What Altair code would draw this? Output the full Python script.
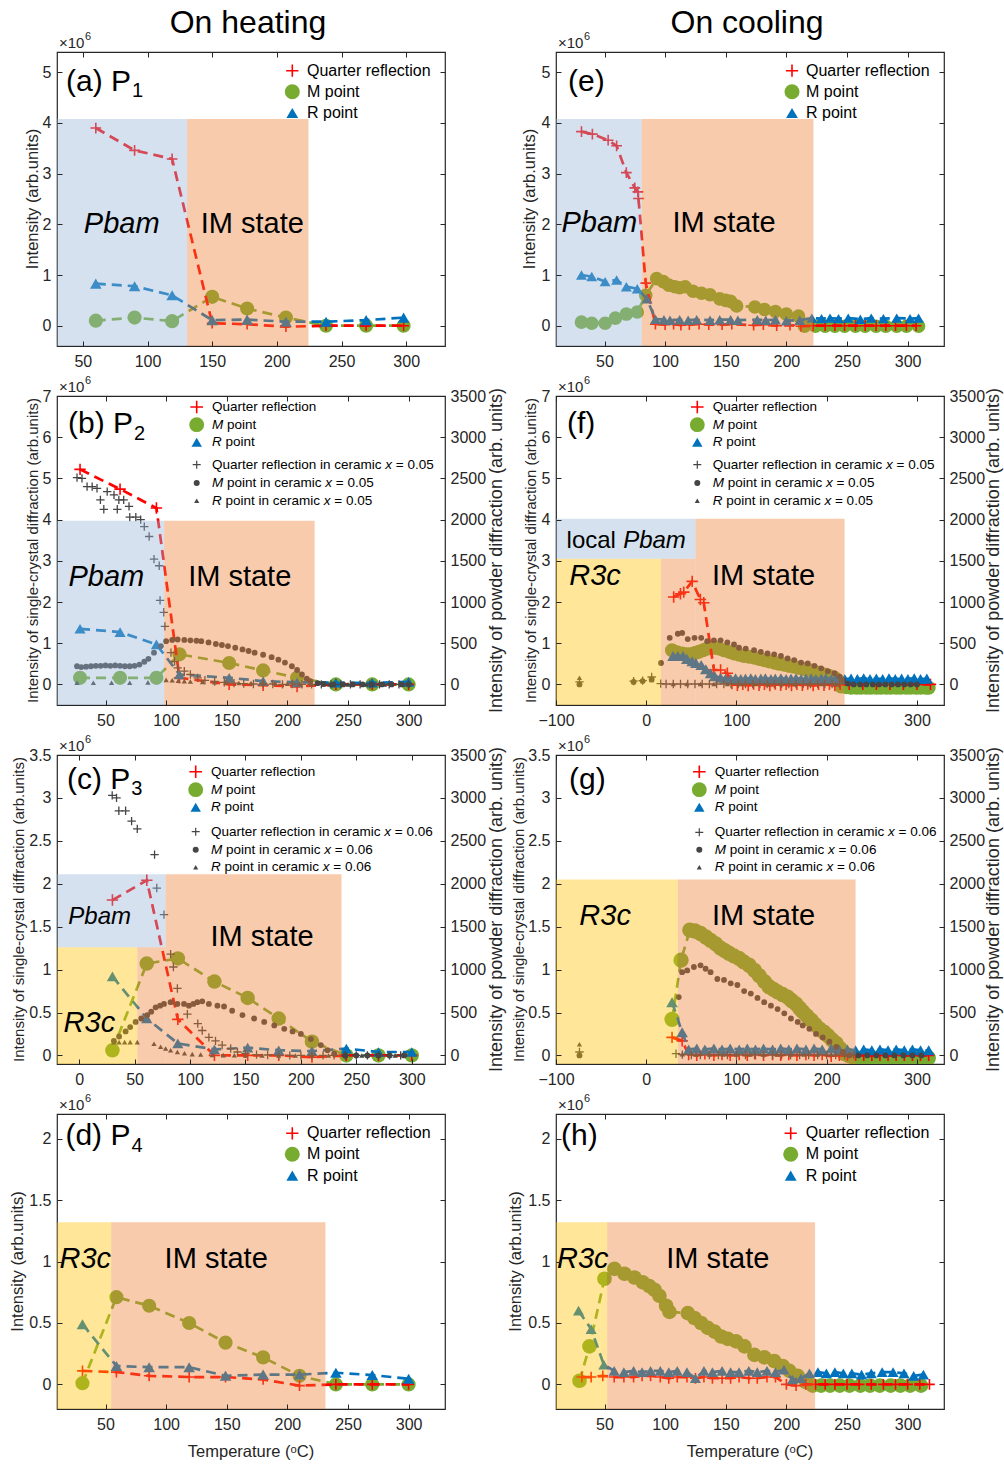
import altair as alt
import pandas as pd

# ======================= DATA (values in units of 1e6 for single crystal, powder units for ceramic) ==========
# (a) P1 on heating
a_T = [60, 90, 119, 150, 177, 207, 238, 269, 298]
a_Q = [3.90, 3.46, 3.29, 0.05, 0.03, -0.02, 0.0, 0.0, 0.0]
a_M = [0.10, 0.16, 0.09, 0.57, 0.34, 0.16, 0.0, 0.0, 0.0]
a_R = [0.83, 0.78, 0.60, 0.11, 0.12, 0.08, 0.08, 0.11, 0.16]

# (e) P1 on cooling
e_QT = [31, 40, 53, 60, 68, 75, 77.5, 78, 84, 92, 100, 107, 113, 120, 128, 136, 147, 155, 173, 181,
        192, 203, 212, 222, 232, 240, 248, 257, 265, 274, 282, 290, 299, 307]
e_Q = [3.83, 3.78, 3.66, 3.55, 3.02, 2.72, 2.64, 2.51, 0.84, 0.03, 0.02, 0.03, 0.01, 0.02, 0.03, 0.02, 0.02, 0.03, 0.01, 0.02,
       0.0, 0.01, -0.01, 0.0, 0.0, 0.0, 0.0, 0.0, 0.0, 0.0, 0.0, 0.0, 0.0, 0.0]
e_MT = [31, 39.5, 50.5, 59, 68, 77, 84, 93, 98.5, 103, 108, 112, 116.5, 123, 130, 137, 145, 150, 154, 159,
        174, 182, 191, 200, 210, 215, 224, 232, 240, 248, 257, 265, 274, 282, 291, 299, 309]
e_M = [0.07, 0.05, 0.05, 0.15, 0.23, 0.27, 0.60, 0.93, 0.87, 0.80, 0.77, 0.75, 0.77, 0.68, 0.64, 0.61, 0.53, 0.50, 0.48, 0.39,
       0.37, 0.32, 0.28, 0.23, 0.19, -0.01, -0.01, -0.01, -0.01, -0.01, -0.01, -0.01, -0.01, -0.01, -0.01, -0.01, -0.01]
e_RT = [31, 39.5, 50.5, 60, 68, 77, 85, 92, 99, 104, 112, 119, 126, 137, 145, 154, 160, 176, 183, 191,
        200, 211, 221, 229, 236, 243, 251, 261, 270, 280, 291, 302, 309]
e_R = [1.0, 0.97, 0.87, 0.90, 0.77, 0.73, 0.53, 0.13, 0.12, 0.11, 0.12, 0.11, 0.12, 0.11, 0.12, 0.12, 0.11, 0.12, 0.11, 0.12,
       0.10, 0.11, 0.15, 0.14, 0.15, 0.14, 0.15, 0.13, 0.15, 0.14, 0.15, 0.14, 0.15]

# (b) P2 on heating
b_T = [29, 62, 92, 111, 152, 180, 208, 240, 270, 300]
b_Q = [5.22, 4.74, 4.28, 0.16, 0.0, -0.02, -0.05, 0.0, 0.0, 0.0]
b_M = [0.16, 0.16, 0.16, 0.73, 0.52, 0.34, 0.16, 0.0, 0.0, 0.0]
b_R = [1.35, 1.27, 0.97, 0.24, 0.16, 0.08, 0.05, 0.04, 0.04, 0.06]
# ceramic x = 0.05 (powder units)
bc_QT = [26.5, 30.6, 34.8, 39, 43, 45.8, 48.6, 51.4, 57, 59.7, 61, 65, 69.4, 70, 75, 79, 82, 86, 90, 94.3,
         95, 98, 99, 104, 107, 109.5, 115, 120, 126, 132, 140, 148, 156, 164, 172, 180, 188, 196, 204, 212,
         220, 228, 236, 244, 252, 260, 268, 276, 284, 292, 300]
bc_Q = [2510, 2500, 2400, 2400, 2380, 2240, 2125, 2340, 2300, 2125, 2240, 2240, 2160, 2030, 2030, 2000, 1915, 1795, 1520, 1440,
        1020, 875, 705, 385, 280, 200, 160, 120, 80, 50, 35, 25, 15, 10, 5, 5, 5, 0, 5, 0,
        0, 0, 0, 0, 0, 0, 0, 0, 0, 0, 0]
bc_MT = [26.5, 30, 34, 38, 42, 46, 50, 54, 58, 62, 66, 70, 74, 78, 82, 85.4, 90, 95.7, 100, 105,
         109.5, 115, 120, 125, 129, 135, 141, 146, 151, 157, 163, 168, 173, 180, 187, 192.6, 198, 203.7, 208, 212,
         216, 219, 225, 230, 238, 246, 254, 262, 270, 278, 286, 294, 300]
bc_M = [220, 210, 215, 220, 225, 225, 230, 225, 230, 225, 220, 220, 225, 240, 275, 310, 385, 465, 525, 540,
        545, 540, 535, 530, 525, 510, 490, 478, 465, 445, 425, 405, 385, 360, 330, 300, 265, 220, 175, 120,
        70, 40, 15, 5, 0, 0, 0, 0, 0, 0, 0, 0, 0]
bc_RT = [26.5, 40, 55, 70, 85, 100, 105, 110, 115, 120, 130, 140, 150, 160, 170, 180, 190, 200, 210, 220,
         235, 250, 265, 280, 295]
bc_R = [20, 20, 20, 20, 25, 55, 50, 45, 40, 35, 30, 26, 22, 18, 15, 12, 10, 8, 5, 3, 0, 0, 0, 0, 0]

# (f) P2 on cooling
f_QT = [30.4, 37.9, 41.6, 50.9, 60, 63.8, 75, 82.4, 89.9, 95, 101, 107, 113, 119, 125, 131, 137, 143, 149, 155,
        161, 167, 173, 179, 185, 191, 197, 203, 209, 215, 225, 240, 255, 270, 285, 300, 315]
f_Q = [2.12, 2.20, 2.24, 2.50, 2.06, 1.98, 0.35, 0.35, 0.27, 0.02, -0.02, 0.0, -0.03, 0.01, -0.02, 0.0, -0.03, 0.01, -0.02, 0.0,
       -0.03, 0.0, -0.02, 0.01, -0.03, 0.0, -0.02, 0.0, -0.03, 0.0, 0.0, 0.0, 0.0, 0.0, 0.0, 0.0, 0.0]
f_MT = [28.6, 34, 39.8, 45, 49, 54, 58.3, 63, 67.6, 72, 76.9, 81, 86.2, 92, 97.3, 103, 108.4, 114, 119.5, 125,
        130.7, 136, 141.8, 147, 153, 158, 164, 170, 175.3, 181, 186.4, 192, 197.5, 203, 208.7, 212, 216, 222, 227, 233,
        238, 244, 249, 255, 260, 266, 271, 277, 282, 288, 293, 299, 304, 310, 313]
f_M = [0.83, 0.78, 0.75, 0.73, 0.73, 0.76, 0.79, 0.83, 0.87, 0.88, 0.89, 0.87, 0.83, 0.79, 0.75, 0.72, 0.69, 0.67, 0.65, 0.62,
       0.59, 0.56, 0.53, 0.50, 0.48, 0.45, 0.43, 0.40, 0.37, 0.34, 0.31, 0.28, 0.24, 0.20, 0.16, 0.10, -0.05, -0.07, -0.08, -0.08,
       -0.08, -0.08, -0.08, -0.08, -0.08, -0.08, -0.08, -0.08, -0.08, -0.08, -0.08, -0.08, -0.08, -0.08, -0.08]
f_RT = [29.7, 35, 40.8, 45, 50.9, 55, 60.9, 66, 71.3, 76, 82.4, 88, 93.6, 99, 104.8, 110, 115.9, 121, 127, 132,
        138.2, 143, 149.3, 155, 160.4, 166, 171.6, 177, 182.7, 188, 193.9, 199, 205, 210, 214.3, 220, 227, 234, 241, 248,
        255, 262, 269, 276, 283, 290, 297, 304, 311]
f_R = [0.69, 0.69, 0.69, 0.62, 0.56, 0.52, 0.47, 0.37, 0.27, 0.20, 0.16, 0.14, 0.13, 0.15, 0.13, 0.14, 0.15, 0.13, 0.14, 0.15,
       0.13, 0.14, 0.15, 0.13, 0.14, 0.15, 0.13, 0.14, 0.15, 0.13, 0.14, 0.15, 0.13, 0.14, 0.13, 0.13, 0.14, 0.13, 0.15, 0.13,
       0.14, 0.13, 0.15, 0.13, 0.14, 0.13, 0.15, 0.13, 0.14]
fc_QT = [-74, -14, -4, 6, 16, 22, 30, 38, 46, 54, 62, 70, 78, 86, 94, 102, 110, 118, 126, 134,
         142, 150, 158, 166, 174, 182, 190, 198, 206, 214]
fc_Q = [30, 40, 45, 90, 10, 5, 5, 5, 5, 5, 5, 5, 5, 5, 5, 5, 5, 5, 5, 5, 5, 5, 5, 5, 5, 5, 5, 5, 5, 5]
fc_MT = [-74, -14, -4, 6, 16.4, 26, 35, 39.8, 46, 53.5, 60.9, 67.6, 75, 82.4, 89.9, 97.3, 102.8, 110.3, 119.5, 127,
         134.4, 141.8, 149.3, 156.7, 164, 171.6, 179, 186.4, 193.9, 201.3, 208.7, 214.3, 218, 223.5, 230, 237, 244, 251, 258, 265,
         272, 279, 286, 293, 300]
fc_M = [0, 30, 40, 60, 260, 565, 615, 625, 550, 565, 565, 525, 535, 535, 510, 485, 445, 435, 415, 395,
        375, 365, 345, 315, 295, 265, 255, 225, 195, 160, 135, 95, 50, 10, 0, 0, 0, 0, 0, 0,
        0, 0, 0, 0, 0]
fc_RT = [-74, -14, -4, 6, 30, 45, 60, 75, 90, 105, 120, 135, 150, 165, 180, 195, 210]
fc_R = [80, 55, 60, 55, 5, 5, 5, 5, 5, 5, 5, 5, 5, 5, 5, 5, 5]

# (c) P3 on heating
c_T = [30, 61, 89, 122, 152, 180, 210, 241, 270, 300]
c_Q = [1.81, 2.04, 0.42, 0.0, 0.0, 0.0, -0.02, 0.0, 0.0, 0.0]
c_M = [0.06, 1.07, 1.13, 0.86, 0.67, 0.43, 0.16, 0.0, 0.0, 0.0]
c_R = [0.92, 0.43, 0.14, 0.07, 0.09, 0.06, 0.05, 0.08, 0.04, 0.04]
cc_QT = [29.8, 33.7, 35.8, 41.9, 47.3, 52.4, 68, 70, 76.5, 82.5, 85, 88.6, 97.6, 107, 111, 117, 123, 129, 136.7, 142.8,
         150, 160, 170, 180, 190, 200, 210, 220, 230, 240, 250, 260, 270, 280, 290]
cc_Q = [3030, 3000, 2850, 2850, 2730, 2640, 2340, 1950, 1640, 1180, 1030, 780, 480, 370, 290, 210, 170, 120, 80, 40,
        20, 10, 5, 0, 0, 0, 0, 0, 0, 0, 0, 0, 0, 0, 0]
cc_MT = [31.3, 36, 41.9, 46, 50.9, 56, 61.4, 65, 69, 73, 76.5, 82.5, 88.6, 94.6, 99, 103, 106.6, 111, 117, 124.7,
         130.7, 138, 147.3, 157.8, 166.9, 176, 185, 192.5, 200, 209, 218, 224, 230, 240, 250, 260, 270, 280, 293]
cc_M = [170, 220, 280, 330, 390, 430, 470, 510, 560, 580, 600, 620, 600, 600, 580, 600, 620, 630, 600, 580,
        570, 520, 470, 430, 390, 350, 310, 280, 250, 190, 120, 60, 20, 0, 0, 0, 0, 0, 0]
cc_RT = [31.3, 36, 41, 46, 52.4, 67.5, 73.5, 78, 82.5, 88.6, 95, 102, 109.6, 120, 130, 140, 150, 165, 180, 195,
         210, 225, 240, 255, 270, 285]
cc_R = [155, 155, 155, 155, 155, 135, 100, 80, 60, 40, 25, 15, 10, 5, 3, 2, 0, 0, 0, 0, 0, 0, 0, 0, 0, 0]

# (g) P3 on cooling
g_MT = [28.6, 38.6, 48.3, 54, 60.2, 66, 71.3, 77, 82.4, 87, 91.7, 97, 102.8, 108, 114, 120, 125.1, 131, 136.2, 141,
        145.5, 151, 156.7, 161, 165.9, 170, 173.4, 178, 182.7, 187, 192, 197, 201.3, 206, 210.6, 215, 219.9, 224, 229, 238.4,
        247.7, 257, 266, 275.5, 284.8, 294, 303.4, 312.6]
g_M = [0.42, 1.11, 1.46, 1.45, 1.42, 1.38, 1.34, 1.30, 1.25, 1.22, 1.19, 1.16, 1.13, 1.09, 1.05, 0.99, 0.93, 0.86, 0.80, 0.77,
       0.74, 0.71, 0.68, 0.64, 0.60, 0.55, 0.51, 0.46, 0.41, 0.36, 0.31, 0.27, 0.23, 0.18, 0.14, 0.08, 0.02, 0.0, -0.02, -0.03,
       -0.03, -0.03, -0.03, -0.03, -0.03, -0.03, -0.03, -0.03]
g_RT = [28.6, 39.8, 47, 56, 65, 75, 84, 93, 103, 112, 121, 130, 140, 149, 158, 167, 177, 186, 195, 205,
        214, 223, 232, 241, 250, 259, 268, 277, 286, 295, 304, 313]
g_R = [0.62, 0.27, 0.07, 0.08, 0.07, 0.08, 0.07, 0.08, 0.07, 0.08, 0.07, 0.08, 0.07, 0.08, 0.07, 0.08, 0.07, 0.08, 0.07, 0.08,
       0.07, 0.07, 0.06, 0.07, 0.06, 0.07, 0.06, 0.07, 0.06, 0.07, 0.06, 0.06]
g_QT = [28.6, 39.8, 47, 56, 65, 75, 84, 93, 103, 112, 121, 130, 140, 149, 158, 167, 177, 186, 195, 205,
        214, 223, 232, 241, 250, 259, 268, 277, 286, 295, 304, 313]
g_Q = [0.21, 0.17, 0.01, 0.0, 0.02, 0.0, 0.01, 0.0, 0.01, 0.0, 0.02, 0.0, 0.01, 0.0, 0.01, 0.0, 0.01, 0.0, 0.01, -0.01,
       0.0, 0.0, 0.0, 0.0, 0.0, 0.0, 0.0, 0.0, 0.0, 0.0, 0.0, 0.0]
gc_QT = [-74, 33, 40, 50, 60, 70, 80, 90, 100, 110, 120, 130, 140, 150, 160, 170, 180, 190, 200, 210, 220, 230]
gc_Q = [40, 20, 10, 5, 5, 5, 5, 5, 5, 5, 5, 5, 5, 5, 5, 5, 5, 5, 5, 5, 5, 5]
gc_MT = [-74, 36, 39.8, 45.4, 52.8, 60.2, 65.8, 71.3, 78.8, 86.2, 93.6, 101, 108.5, 115.9, 123.3, 130.7, 138.2, 145.6, 153,
         160.4, 167.9, 173.4, 180.8, 188.2, 195.6, 203, 210.6, 218, 225.4, 235, 245, 255, 265, 275, 285, 295, 305]
gc_M = [0, 680, 970, 990, 1030, 1050, 1010, 970, 890, 880, 840, 820, 750, 720, 670, 620, 580, 540, 490,
        430, 390, 350, 310, 250, 210, 160, 100, 40, 0, 0, 0, 0, 0, 0, 0, 0, 0]
gc_RT = [-74, 40, 55, 70, 85, 100, 115, 130, 145, 160, 175, 190, 205, 220]
gc_R = [130, 15, 10, 10, 10, 10, 10, 10, 10, 10, 10, 10, 10, 10]

# (d) P4 on heating
d_T = [31, 59, 86, 119, 149, 180, 210, 240, 270, 300]
d_Q = [0.11, 0.10, 0.07, 0.06, 0.06, 0.04, -0.01, 0.0, 0.0, 0.0]
d_M = [0.01, 0.71, 0.64, 0.50, 0.34, 0.22, 0.07, 0.0, 0.0, 0.0]
d_R = [0.49, 0.15, 0.14, 0.14, 0.07, 0.08, 0.08, 0.095, 0.076, 0.046]

# (h) P4 on cooling
h_MT = [29.4, 37.6, 50, 58.2, 66.5, 74.7, 81.6, 87, 91.2, 95.3, 100.8, 103.6, 118.7, 124.2, 129.7, 135.2, 140.7, 146.2, 151.7, 158.5,
        165.4, 173.6, 181.9, 190.1, 197, 202.5, 209.4, 216.2, 221.7, 228.6, 236, 244, 252, 261, 269, 277, 286, 294, 302, 311]
h_M = [0.03, 0.31, 0.86, 0.94, 0.90, 0.87, 0.83, 0.80, 0.77, 0.72, 0.64, 0.59, 0.58, 0.54, 0.50, 0.46, 0.43, 0.39, 0.37, 0.35,
       0.31, 0.24, 0.22, 0.19, 0.15, 0.11, 0.07, 0.02, -0.01, -0.01, -0.01, -0.01, -0.01, -0.01, -0.01, -0.01, -0.01, -0.01, -0.01, -0.01]
h_RT = [28.6, 39, 49.5, 58, 66, 74, 81, 88, 96, 103, 110, 118, 125, 132, 139, 147, 154, 161, 169, 176,
        184, 191, 198, 205, 212, 219, 226, 233, 240, 247, 254, 262, 270, 279, 288, 297, 305, 313]
h_R = [0.60, 0.45, 0.16, 0.11, 0.10, 0.11, 0.10, 0.11, 0.11, 0.10, 0.11, 0.10, 0.05, 0.11, 0.10, 0.11, 0.10, 0.10, 0.11, 0.10,
       0.11, 0.10, 0.12, 0.04, 0.05, 0.09, 0.10, 0.09, 0.10, 0.09, 0.09, 0.08, 0.09, 0.10, 0.10, 0.09, 0.07, 0.08]
h_QT = [31.3, 39, 48.6, 58, 66, 74, 81, 88, 96, 103, 110, 118, 125, 132, 139, 147, 154, 161, 169, 176,
        184, 191, 200, 208, 216, 224, 232, 240, 250, 260, 270, 280, 290, 300, 310, 318]
h_Q = [0.06, 0.06, 0.07, 0.06, 0.06, 0.06, 0.07, 0.07, 0.06, 0.05, 0.06, 0.06, 0.05, 0.06, 0.05, 0.05, 0.05, 0.06, 0.05, 0.05,
       0.06, 0.06, 0.0, -0.01, 0.0, 0.0, 0.0, 0.0, 0.0, 0.0, 0.0, 0.0, 0.0, 0.0, 0.0, 0.0]

# phase regions: (T start, T end, y bottom, y top, colour)
a_reg = [(30, 130.6, -0.4, 4.08, 'blue'), (130.6, 224.4, -0.4, 4.08, 'orange')]
e_reg = [(10, 80.7, -0.4, 4.08, 'blue'), (80.7, 222.3, -0.4, 4.08, 'orange')]
b_reg = [(10, 98.4, -0.5, 3.97, 'blue'), (98.4, 222.5, -0.5, 3.97, 'orange')]
f_reg = [(-100, 16.4, -0.5, 3.05, 'yellow'), (-100, 54.6, 3.05, 4.02, 'blue'),
         (16.4, 54.6, -0.5, 3.05, 'orange'), (54.6, 219.8, -0.5, 4.02, 'orange')]
c_reg = [(-20, 52.4, -0.1, 1.26, 'yellow'), (-20, 78, 1.26, 2.11, 'blue'),
         (52.4, 78, -0.1, 1.26, 'orange'), (78, 236.7, -0.1, 2.11, 'orange')]
g_reg = [(-100, 35, -0.1, 2.05, 'yellow'), (35, 232, -0.1, 2.05, 'orange')]
d_reg = [(10, 54.7, -0.2, 1.32, 'yellow'), (54.7, 231.4, -0.2, 1.32, 'orange')]
h_reg = [(10, 52.2, -0.2, 1.32, 'yellow'), (52.2, 223.7, -0.2, 1.32, 'orange')]

# phase labels: (text, T, y, italic, size, align)
a_lab = [('Pbam', 80, 1.82, True, 29, 'center'), ('IM state', 181, 1.82, False, 29, 'center')]
e_lab = [('Pbam', 45.7, 1.84, True, 29, 'center'), ('IM state', 148.6, 1.84, False, 29, 'center')]
b_lab = [('Pbam', 50.7, 2.38, True, 29, 'center'), ('IM state', 160.7, 2.38, False, 29, 'center')]
f_lab = [('R3c', -56.8, 2.42, True, 29, 'center'), ('IM state', 130, 2.42, False, 29, 'center'),
         ('local', -88.3, 3.31, False, 24, 'left'), ('Pbam', -25.6, 3.31, True, 24, 'left')]
c_lab = [('Pbam', 18.5, 1.53, True, 24, 'center'), ('IM state', 165, 1.27, False, 29, 'center'),
         ('R3c', 9.2, 0.27, True, 29, 'center')]
g_lab = [('R3c', -45.6, 1.515, True, 29, 'center'), ('IM state', 130, 1.515, False, 29, 'center')]
d_lab = [('R3c', 33.3, 0.95, True, 29, 'center'), ('IM state', 141.3, 0.95, False, 29, 'center')]
h_lab = [('R3c', 32.1, 0.95, True, 29, 'center'), ('IM state', 143.4, 0.95, False, 29, 'center')]

# ======================= STYLE =======================
FONT = 'Liberation Sans'
TXT = '#262626'
RED, GREEN, BLUE, CER = '#FF0000', '#77AC30', '#0072BD', '#454545'
COL = {'Q': RED, 'M': GREEN, 'R': BLUE}
REG = {'blue': '#95B3D7', 'orange': '#ED7D31', 'yellow': '#FFC000'}
PLUS = 'M-1,0L1,0M0,-1L0,1'
SHAPE = {'M': 'circle', 'R': 'triangle-up'}
AW = {' ': 278, '(': 333, ')': 333, '.': 278, '=': 584, '×': 584, 'Q': 778, 'M': 833, 'R': 722, 'P': 667,
      'a': 556, 'b': 556, 'c': 500, 'd': 556, 'e': 556, 'f': 278, 'g': 556, 'h': 556, 'i': 222, 'l': 222,
      'm': 833, 'n': 556, 'o': 556, 'p': 556, 'r': 333, 's': 500, 't': 278, 'u': 556, 'x': 500}


def tw(s, size):
    return sum(AW.get(ch, 556) for ch in s) * size / 1000.0


def sc(dom):
    return alt.Scale(domain=dom, nice=False, zero=False)


def xenc(f, dom):
    return alt.X(f + ':Q', scale=sc(dom), axis=None)


def yenc(f, dom):
    return alt.Y(f + ':Q', scale=sc(dom), axis=None)


def pxe(f):
    return alt.X(f + ':Q', scale=None, axis=None)


def pye(f):
    return alt.Y(f + ':Q', scale=None, axis=None)


def marker(ch, kind, color, size, sw=1.6, clip=True):
    if kind == 'Q':
        return ch.mark_point(shape=PLUS, filled=False, color=color, size=size, strokeWidth=sw, opacity=1, clip=clip)
    return ch.mark_point(shape=SHAPE[kind], filled=True, color=color, size=size, strokeWidth=0, opacity=1, clip=clip)


def series_layers(T, V, kind, xdom, ydom, size):
    base = alt.Chart(pd.DataFrame({'T': T, 'v': V})).encode(x=xenc('T', xdom), y=yenc('v', ydom))
    line = base.mark_line(color=COL[kind], strokeWidth=2.7, strokeDash=[10, 6], clip=True)
    return [line, marker(base, kind, COL[kind], size)]


def ceramic_layer(T, V, kind, xdom, rdom):
    base = alt.Chart(pd.DataFrame({'T': T, 'v': V})).encode(x=xenc('T', xdom), y=yenc('v', rdom))
    size = {'Q': 70, 'M': 34, 'R': 28}[kind]
    return marker(base, kind, CER, size, sw=1.3)


def region_layers(regs, xdom, ydom):
    out = []
    for (x1, x2, y1, y2, c) in regs:
        df = pd.DataFrame({'x1': [x1], 'x2': [x2], 'y1': [y1], 'y2': [y2]})
        out.append(alt.Chart(df).mark_rect(color=REG[c], opacity=0.4).encode(
            x=xenc('x1', xdom), x2='x2:Q', y=yenc('y1', ydom), y2='y2:Q'))
    return out


def label_layers(labs, xdom, ydom):
    out = []
    for (t, x, y, it, s, al) in labs:
        df = pd.DataFrame({'T': [x], 'v': [y], 't': [t]})
        out.append(alt.Chart(df).mark_text(fontSize=s, fontStyle='italic' if it else 'normal', align=al,
                                           baseline='alphabetic', color='black').encode(
            x=xenc('T', xdom), y=yenc('v', ydom), text='t:N'))
    return out


def ptxt(t, x, y, size, italic=False, align='left', baseline='alphabetic', angle=0, color='black'):
    df = pd.DataFrame({'px': [x], 'py': [y], 't': [t]})
    return alt.Chart(df).mark_text(fontSize=size, fontStyle='italic' if italic else 'normal', align=align,
                                   baseline=baseline, angle=angle, color=color).encode(
        x=pxe('px'), y=pye('py'), text='t:N')


def psym(kind, color, x, y, size, sw=1.6):
    base = alt.Chart(pd.DataFrame({'px': [x], 'py': [y]})).encode(x=pxe('px'), y=pye('py'))
    return marker(base, kind, color, size, sw=sw, clip=False)


def legend_layers(kind, sx, tx, rows, fs, xval=''):
    L = []
    if kind == 'single':
        syms = [('Q', RED, 150, 1.6), ('M', GREEN, 225, 0), ('R', BLUE, 140, 0)]
        lines = [[('Quarter reflection', False)], [('M point', False)], [('R point', False)]]
    else:
        syms = [('Q', RED, 160, 1.6), ('M', GREEN, 220, 0), ('R', BLUE, 110, 0),
                ('Q', CER, 64, 1.2), ('M', CER, 36, 0), ('R', CER, 26, 0)]
        lines = [[('Quarter reflection', False)], [('M', True), ('point', False)], [('R', True), ('point', False)],
                 [('Quarter reflection in ceramic', False), ('x', True), ('= ' + xval, False)],
                 [('M', True), ('point in ceramic', False), ('x', True), ('= ' + xval, False)],
                 [('R', True), ('point in ceramic', False), ('x', True), ('= ' + xval, False)]]
    for (k, c, s, sw), y, segs in zip(syms, rows, lines):
        L.append(psym(k, c, sx, y, s, sw=sw if sw else 1.6))
        x = tx
        for t, it in segs:
            L.append(ptxt(t, x, y, fs, italic=it, baseline='middle', color='black'))
            x += tw(t, fs) + tw(' ', fs)
    return L


def axis_layers(xdom, ydom, xticks, yticks, rdom=None, rticks=None):
    base = alt.Chart(pd.DataFrame({'x': [xdom[0]], 'y': [ydom[0]]}))
    com = dict(grid=False, domain=False, title=None)
    lab_style = dict(labelFontSize=16, labelColor=TXT, labelFlush=False, labelOverlap=False, ticks=False, tickSize=0)
    out = [base.mark_point(opacity=0).encode(
        x=alt.X('x:Q', scale=sc(xdom), axis=alt.Axis(orient='bottom', values=xticks, labelPadding=7, format='d', **lab_style, **com)),
        y=alt.Y('y:Q', scale=sc(ydom), axis=alt.Axis(orient='left', values=yticks, labelPadding=6, format='~g', **lab_style, **com)))]
    tk = dict(labels=False, ticks=True, tickSize=5, offset=-5, tickColor=TXT, tickWidth=1, zindex=1)
    for ox, oy in (('bottom', 'left'), ('top', 'right')):
        out.append(base.mark_point(opacity=0).encode(
            x=alt.X('x:Q', scale=sc(xdom), axis=alt.Axis(orient=ox, values=xticks, **tk, **com)),
            y=alt.Y('y:Q', scale=sc(ydom), axis=alt.Axis(orient=oy, values=yticks, **tk, **com))))
    if rdom is not None:
        out.append(base.mark_point(opacity=0).encode(
            x=alt.X('x:Q', scale=sc(xdom), axis=None),
            y=alt.Y('y:Q', scale=sc(rdom), axis=alt.Axis(orient='right', values=rticks, labelPadding=5, format='d', **lab_style, **com))))
    return out


def make_panel(w, h, xdom, ydom, xticks, yticks, series, sizes, regs, labs, plab, legend,
               ceramic=None, rdom=None, rticks=None, ytitles=(), xtitle=False, top=None):
    layers = []
    for T, V, k in series:
        layers += series_layers(T, V, k, xdom, ydom, sizes[k])
    if ceramic:
        for T, V, k in ceramic:
            layers.append(ceramic_layer(T, V, k, xdom, rdom))
    layers += region_layers(regs, xdom, ydom)
    layers += label_layers(labs, xdom, ydom)
    layers += axis_layers(xdom, ydom, xticks, yticks, rdom, rticks)
    main, sub, lx, ly, sy = plab
    layers.append(ptxt(main, lx, ly, 30))
    if sub:
        layers.append(ptxt(sub, lx + tw(main, 30) + 1, sy, 20))
    layers.append(ptxt('×10', 2, -4, 15, color=TXT))
    layers.append(ptxt('6', 2 + tw('×10', 15) + 0.5, -12, 11, color=TXT))
    layers += legend
    for (t, x, fs) in ytitles:
        layers.append(ptxt(t, x, h / 2.0, fs, align='center', baseline='middle', angle=270, color=TXT))
    if xtitle:
        layers.append(ptxt('Temperature (ᵒC)', w / 2.0, h + 48, 16.5, align='center', color=TXT))
    if top:
        layers.append(ptxt(top, w / 2.0 - 3, -19, 32, align='center'))
    return alt.layer(*layers).properties(width=w, height=h).resolve_scale(y='independent').resolve_axis(
        x='independent', y='independent')


X50 = [50, 100, 150, 200, 250, 300]
X100 = [-100, 0, 100, 200, 300]
TI = 'Intensity (arb.units)'
TS = 'Intensity of single-crystal diffraction (arb.units)'
TP = 'Intensity of powder diffraction (arb. units)'
SZ1 = {'M': 200, 'Q': 115, 'R': 135}
W = 388

pa = make_panel(W, 294, [30, 330], [-0.4, 5.4], X50, [0, 1, 2, 3, 4, 5],
                [(a_T, a_M, 'M'), (a_T, a_Q, 'Q'), (a_T, a_R, 'R')], SZ1, a_reg, a_lab,
                ('(a) P', '1', 9, 39, 45), legend_layers('single', 235.3, 250, [18.7, 39.7, 61], 16),
                ytitles=[(TI, -24, 16.5)], top='On heating')
pe = make_panel(W, 294, [10, 330], [-0.4, 5.4], X50, [0, 1, 2, 3, 4, 5],
                [(e_MT, e_M, 'M'), (e_QT, e_Q, 'Q'), (e_RT, e_R, 'R')], {'M': 185, 'Q': 115, 'R': 120}, e_reg, e_lab,
                ('(e)', '', 12, 39, 0), legend_layers('single', 236, 250, [18.7, 39.7, 61], 16),
                ytitles=[(TI, -26, 16.5)], top='On cooling')
pb = make_panel(W, 309, [10, 330], [-0.5, 7], X50, [0, 1, 2, 3, 4, 5, 6, 7],
                [(b_T, b_M, 'M'), (b_T, b_Q, 'Q'), (b_T, b_R, 'R')], {'M': 200, 'Q': 130, 'R': 125}, b_reg, b_lab,
                ('(b) P', '2', 11, 37, 44),
                legend_layers('ceramic', 139.7, 155, [11, 28.7, 46.3, 68.7, 87, 104.7], 13.5, '0.05'),
                ceramic=[(bc_QT, bc_Q, 'Q'), (bc_MT, bc_M, 'M'), (bc_RT, bc_R, 'R')],
                rdom=[-250, 3500], rticks=[0, 500, 1000, 1500, 2000, 2500, 3000, 3500],
                ytitles=[(TS, -24, 15), (TP, 440, 18)])
pf = make_panel(W, 309, [-100, 330], [-0.5, 7], X100, [0, 1, 2, 3, 4, 5, 6, 7],
                [(f_MT, f_M, 'M'), (f_QT, f_Q, 'Q'), (f_RT, f_R, 'R')], {'M': 200, 'Q': 130, 'R': 135}, f_reg, f_lab,
                ('(f)', '', 11, 37, 0),
                legend_layers('ceramic', 141.3, 156.7, [11, 28.7, 46.3, 68.7, 87, 104.7], 13.5, '0.05'),
                ceramic=[(fc_QT, fc_Q, 'Q'), (fc_MT, fc_M, 'M'), (fc_RT, fc_R, 'R')],
                rdom=[-250, 3500], rticks=[0, 500, 1000, 1500, 2000, 2500, 3000, 3500],
                ytitles=[(TS, -25, 15), (TP, 438, 18)])
pc = make_panel(W, 309, [-20, 330], [-0.1, 3.5], [0, 50, 100, 150, 200, 250, 300], [0, 0.5, 1, 1.5, 2, 2.5, 3, 3.5],
                [(c_T, c_M, 'M'), (c_T, c_Q, 'Q'), (c_T, c_R, 'R')], {'M': 210, 'Q': 130, 'R': 125}, c_reg, c_lab,
                ('(c) P', '3', 10, 34, 40),
                legend_layers('ceramic', 138.7, 154, [16.7, 34.7, 52.3, 76.7, 94.7, 112.3], 13.5, '0.06'),
                ceramic=[(cc_QT, cc_Q, 'Q'), (cc_MT, cc_M, 'M'), (cc_RT, cc_R, 'R')],
                rdom=[-100, 3500], rticks=[0, 500, 1000, 1500, 2000, 2500, 3000, 3500],
                ytitles=[(TS, -38, 15), (TP, 440, 18)])
pg = make_panel(W, 309, [-100, 330], [-0.1, 3.5], X100, [0, 0.5, 1, 1.5, 2, 2.5, 3, 3.5],
                [(g_MT, g_M, 'M'), (g_QT, g_Q, 'Q'), (g_RT, g_R, 'R')], {'M': 235, 'Q': 130, 'R': 135}, g_reg, g_lab,
                ('(g)', '', 13, 34, 0),
                legend_layers('ceramic', 143.3, 158.7, [16.7, 34.7, 52.3, 77.3, 94.7, 112.3], 13.5, '0.06'),
                ceramic=[(gc_QT, gc_Q, 'Q'), (gc_MT, gc_M, 'M'), (gc_RT, gc_R, 'R')],
                rdom=[-100, 3500], rticks=[0, 500, 1000, 1500, 2000, 2500, 3000, 3500],
                ytitles=[(TS, -37, 15), (TP, 438, 18)])
pd_ = make_panel(W, 295, [10, 330], [-0.2, 2.2], X50, [0, 0.5, 1, 1.5, 2],
                 [(d_T, d_M, 'M'), (d_T, d_Q, 'Q'), (d_T, d_R, 'R')], SZ1, d_reg, d_lab,
                 ('(d) P', '4', 8.4, 31, 37.7), legend_layers('single', 235.3, 250, [19.3, 40.3, 61.7], 16),
                 ytitles=[(TI, -39, 16.5)], xtitle=True)
ph = make_panel(W, 295, [10, 330], [-0.2, 2.2], X50, [0, 0.5, 1, 1.5, 2],
                [(h_MT, h_M, 'M'), (h_QT, h_Q, 'Q'), (h_RT, h_R, 'R')], {'M': 215, 'Q': 115, 'R': 125}, h_reg, h_lab,
                ('(h)', '', 5, 31, 0), legend_layers('single', 234.7, 249.7, [19.3, 40.3, 61.7], 16),
                ytitles=[(TI, -40, 16.5)], xtitle=True)

chart = alt.concat(pa, pe, pb, pf, pc, pg, pd_, ph, columns=2, spacing={'row': 50, 'column': 111},
                   bounds='flush').properties(
    padding={'left': 9, 'top': 6, 'right': 0, 'bottom': 0}
).configure(font=FONT, background='white').configure_view(stroke=TXT, strokeWidth=1.2)

chart.save('out.html', embed_options={'renderer': 'svg', 'actions': False})
